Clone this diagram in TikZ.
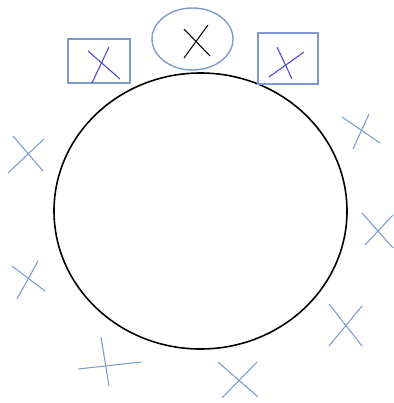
\documentclass[tikz,border=0pt]{standalone}
\usepackage{tikz}

\definecolor{framecol}{RGB}{125,155,205}
\definecolor{crosscol}{RGB}{120,155,210}
\definecolor{markcol}{RGB}{70,70,215}

\begin{document}
\begin{tikzpicture}[x=0.01cm,y=-0.01cm,line width=0.3pt]
\useasboundingbox (0,0) rectangle (393,403);

%big circle
\draw[black,line width=0.45pt] (200.5,211) ellipse[x radius=146.5, y radius=138];

%top ellipse with black cross
\draw[framecol,line width=0.4pt] (192.5,39) ellipse[x radius=40.5, y radius=31];
\draw[black] (184,29) -- (210,56);
\draw[black] (208,25) -- (184,58);

%left box
\draw[framecol,line width=0.45pt] (68,39) rectangle (130,83);
\draw[markcol] (88,51) -- (120,79);
\draw[markcol] (109,47) -- (92,83);

%right box
\draw[framecol,line width=0.45pt] (258,33) rectangle (318,84);
\draw[markcol] (277,47) -- (292,79);
\draw[markcol] (304,52) -- (269,77);

%left crosses
\draw[crosscol] (13,136) -- (43,171);
\draw[crosscol] (44,139) -- (8,173);
\draw[crosscol] (12,266) -- (45,291);
\draw[crosscol] (38,261) -- (17,299);

%right crosses
\draw[crosscol] (342,117) -- (380,143);
\draw[crosscol] (369,114) -- (353,149);
\draw[crosscol] (362,213) -- (393,248);
\draw[crosscol] (393,215) -- (365,245);
\draw[crosscol] (329,304) -- (362,346);
\draw[crosscol] (362,306) -- (329,346);

%bottom crosses
\draw[crosscol] (78,369) -- (141,362);
\draw[crosscol] (101,337) -- (109,386);
\draw[crosscol] (218,362) -- (258,397);
\draw[crosscol] (257,362) -- (222,398);

\end{tikzpicture}
\end{document}
